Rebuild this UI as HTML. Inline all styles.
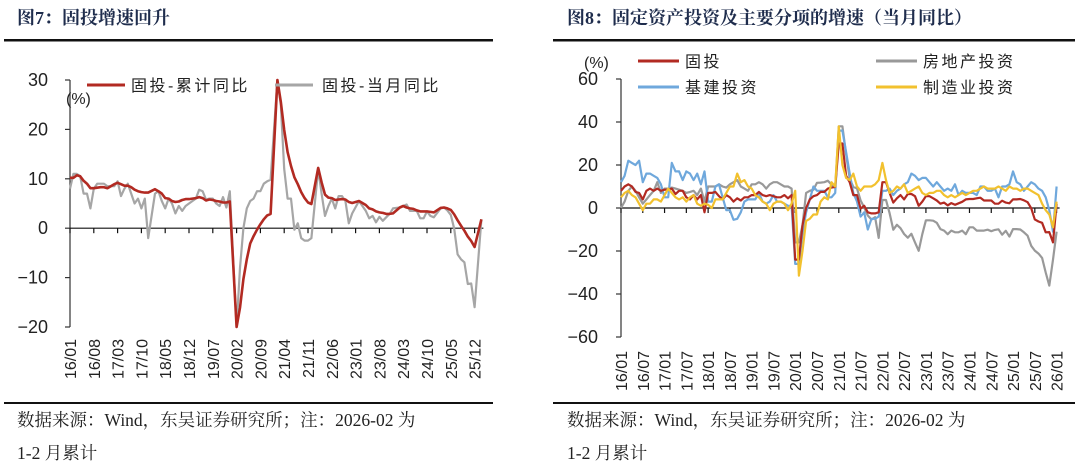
<!DOCTYPE html>
<html><head><meta charset="utf-8">
<style>
html,body{margin:0;padding:0;background:#fff;}
svg{display:block;}
.hd{font-family:"Liberation Serif","Noto Serif CJK SC",serif;font-weight:bold;font-size:18px;fill:#1f2d4d;}
.ft{font-family:"Liberation Serif","Noto Serif CJK SC",serif;font-size:17.5px;fill:#222;}
.tk{font-family:"Liberation Sans","Noto Sans CJK SC",sans-serif;font-size:18px;fill:#222;}
.tx{font-family:"Liberation Sans","Noto Sans CJK SC",sans-serif;font-size:16px;fill:#222;}
.lg{font-family:"Liberation Sans","Noto Sans CJK SC",sans-serif;font-size:16px;fill:#222;letter-spacing:2.5px;}
</style></head><body>
<svg id="root" width="1080" height="468" viewBox="0 0 1080 468" xmlns="http://www.w3.org/2000/svg">
<text class="hd" x="17" y="24">图7：固投增速回升</text>
<text class="hd" x="567" y="24">图8：固定资产投资及主要分项的增速（当月同比）</text>
<rect x="4" y="39" width="489" height="2.5" fill="#111"/>
<rect x="553" y="39" width="522" height="2.5" fill="#111"/>
<rect x="4" y="402" width="489" height="2" fill="#111"/>
<rect x="553" y="402" width="522" height="2" fill="#111"/>
<text class="ft" x="17" y="426">数据来源：Wind，东吴证券研究所；注：2026-02 为</text>
<text class="ft" x="17" y="459">1-2 月累计</text>
<text class="ft" x="567" y="426">数据来源：Wind，东吴证券研究所；注：2026-02 为</text>
<text class="ft" x="567" y="459">1-2 月累计</text>
<g id="left"></g>
<g id="right"></g>
</svg>
<script>
// ---------- Left chart data (2016-01 .. 2026-02; January merged into Feb = null) ----------
const leftTicksY = [30, 20, 10, 0, -10, -20];
const leftTickLabelsX = ["16/01","16/08","17/03","17/10","18/05","18/12","19/07","20/02","20/09","21/04","21/11","22/06","23/01","23/08","24/03","24/10","25/05","25/12"];
const cumYoY = [
10.2,10.2,10.7,10.5,9.6,9.0,8.1,8.1,8.2,8.3,8.3,8.1,
null,8.9,9.2,8.9,8.6,8.6,8.3,7.8,7.5,7.3,7.2,7.2,
null,7.9,7.5,7.0,6.1,6.0,5.5,5.3,5.4,5.7,5.9,5.9,
null,6.1,6.3,6.1,5.6,5.8,5.7,5.5,5.4,5.2,5.2,5.4,
null,-20.5,-16.1,-10.3,-6.3,-3.1,-1.6,-0.3,0.8,1.8,2.6,2.9,
null,30,25.6,19.9,15.4,12.6,10.3,8.9,7.3,6.1,5.2,4.9,
null,12.2,9.3,6.8,6.2,6.1,5.7,5.8,5.9,5.8,5.3,5.1,
null,5.5,5.1,4.7,4.0,3.8,3.4,3.2,3.1,2.9,2.9,3.0,
null,4.2,4.5,4.2,4.0,3.9,3.6,3.4,3.4,3.4,3.3,3.2,
null,4.1,4.2,4.0,3.7,2.8,1.6,0.5,-0.5,-1.7,-2.6,-3.8,
null,1.8];
const monthYoY = [
8,11,11,10.5,7,7,4,8,9,9,9,8.5,
null,8.5,9.5,6.5,8,9,7,5,6,4,6,-2,
null,7,7.5,5.5,4,6,5,3,4.5,3.5,4.5,5,
null,6,7.8,7.5,5.8,6,6,5,4.5,6.3,4.2,7.5,
null,-20.5,-8,0,4,5.5,6,7.5,7.5,9,9.5,9.8,
null,30,25,12,6,6,-0.3,1,-2,-2.5,-2.5,-2,
null,12,7,2.5,4.5,6,4,6.5,6.5,5.5,1,3,
null,5.5,4.5,3.5,2,2.5,1.2,2.3,1.5,2.2,2.9,4,
null,4.2,4.5,4.8,3.5,3.5,3.5,2,2,3.4,2.5,2.2,
null,4,4.2,3.6,2.7,-0.1,-5.3,-6.3,-6.9,-11.3,-11.2,-16,
null,1.8];

// ---------- Right chart data (2016-01 .. 2026-01) ----------
const rightTicksY = [60, 40, 20, 0, -20, -40, -60];
const rightTickLabelsX = ["16/01","16/07","17/01","17/07","18/01","18/07","19/01","19/07","20/01","20/07","21/01","21/07","22/01","22/07","23/01","23/07","24/01","24/07","25/01","25/07","26/01"];
const fai = [
8,10,11,10,7.5,7,4,8,9,8,9,8,
8.5,8.5,9,6.5,8,8,5,4,6,4,6,-2,
7,7,7.5,5.5,4,6,5,3,4.5,3.5,5,5,
6,6,7.5,6,5.5,6,5.5,5,5,6,4.5,6,
-24,-24,-8,0,4,5.5,6,7.5,7.5,9,9.5,9.8,
30,30,15,12,6,6,-0.3,1,-2,-2.5,-2.5,-2,
12,12,7,2.5,4.5,6,4,6.5,6.5,5.5,1,3,
5.5,5.5,4.5,3.5,2,2.5,1.2,2.3,1.5,2.2,2.9,4,
4.2,4.2,4.5,4.8,3.5,3.5,3.5,2,2,3.4,2.5,2.2,
4,4,4.2,3.6,2.7,-0.1,-5.3,-6.3,-6.9,-11.3,-11.2,-16,
2];
const realEstate = [
0,3,8,10,8,5,2,4,6,8,12,7,
9,9,9.5,9,8.5,8,7,7.5,8,6,9,3,
10,10,10,11,10,9.5,11,12,13,10,9,8,
11,11,12,11,9,11,12,12,11,10,10,9,
-16,-16,-8,7,8,8.5,11.7,11.8,12,12.7,10.9,9.3,
38,38,25,13.7,9.8,9.1,3.5,0.3,-3.5,-5.4,-4.3,-13.9,
3.7,3.7,-2.4,-10.1,-7.8,-9.4,-12.1,-13.8,-12,-16,-19.9,-12.2,
-5.7,-5.7,-5.9,-6.9,-9.8,-10.5,-12.2,-10.5,-11.3,-11.3,-10.5,-12.2,
-9,-9,-10.5,-10.5,-10.5,-10.1,-10.8,-10.2,-9.9,-12.4,-10.6,-13.3,
-9.8,-9.8,-10,-11.3,-12.9,-17.6,-19.8,-21.2,-23.2,-30,-36.1,-24,
-11];
const infra = [
12,15,22,21,20,22,12,16,16,15,14,11,
5,5,21,17,17,13,17,16,13,16,11,17,
3,3,10,11,5,-1,-1,-5.5,-5,-2,3,4,
4,4,7,3,2,3,6,3,3,2,1,1,
-26,-26,-12,-2,4,10,8,8,8,5,5,7,
36,36,26,16,7,3,-4,-2,-10,-5,-5,-4,
8,8,9,6,8,9,11,12,16,15,13,14,
14,12,10,12,10,8,9,8,11,6,8,7,
7,7,6,10,10,8,8,9,5,10,10,11,
17,12,11,8,10,12,11,9,8,5,-1,-11,
10];
const manuf = [
5,7,8,6,5,2,-1,2,2,4,4,3,
6,9,7,5,4,5,3,5,6,2,1,2,
1.5,0,4,4,4,7,10,10,16,12,13,10,
9,6,5,3,2,-1,2,3,3,2,-1,2,
8,-31.5,-20,-6,-5,-3,-3,3,5,4,12,10,
38,20,14,13,16,10,8,10,10,10,11,13,
21,13,7,8,10,9,11,7,8,9,10,7,
6,7,7,8,8,6,5,6,5,6,7,6,
7,8,8,9,10,9,9,9,10,9,8,10,
9,9,8,9,9,8,7,6,2,-1,-3,-9,
3];

const NS = "http://www.w3.org/2000/svg";
function mk(parent, tag, attrs){ const e=document.createElementNS(NS,tag); for(const k in attrs) e.setAttribute(k,attrs[k]); parent.appendChild(e); return e; }

// ---------- Left chart ----------
(function(){
  const g = document.getElementById('left');
  const x0=70, step=3.40, yTop=80, yBot=327, vMax=30, vMin=-20;
  const xS = i => x0 + i*step;
  const yS = v => { const c=Math.max(vMin,Math.min(vMax,v)); return yTop + (vMax-c)/(vMax-vMin)*(yBot-yTop); };
  const axis = mk(g,'line',{x1:x0,y1:yTop,x2:x0,y2:yBot,stroke:'#333','stroke-width':1.2});
   
  leftTicksY.forEach(v=>{
    const t=mk(g,'line',{x1:x0-5,y1:yS(v),x2:x0,y2:yS(v),stroke:'#333','stroke-width':1.2});
     
    const l=mk(g,'text',{x:x0-22,y:yS(v)+6,'text-anchor':'end',class:'tk'}); l.textContent=v<0?'−'+(-v):String(v);
     
  });
  const zl=mk(g,'line',{x1:x0,y1:yS(0),x2:xS(121)+2,y2:yS(0),stroke:'#111','stroke-width':1.2});
   
  leftTickLabelsX.forEach((s,k)=>{
    const x=xS(k*7);
    const t=mk(g,'line',{x1:x,y1:yS(0),x2:x,y2:yS(0)+5,stroke:'#111','stroke-width':1.2});
     
    const l=mk(g,'text',{transform:`translate(${x+6},339) rotate(-90)`,'text-anchor':'end',class:'tx'}); l.textContent=s;
     
  });
  const u=mk(g,'text',{x:66,y:104,class:'tx'}); u.textContent='(%)';
   
  const pts = arr => arr.map((v,i)=>v===null?null:xS(i).toFixed(1)+','+yS(v).toFixed(1)).filter(p=>p!==null).join(' ');
  const gl=mk(g,'polyline',{points:pts(monthYoY),fill:'none',stroke:'#a6a6a6','stroke-width':2.2,'stroke-linejoin':'round'});
   
  const rl=mk(g,'polyline',{points:pts(cumYoY),fill:'none',stroke:'#b22a22','stroke-width':2.6,'stroke-linejoin':'round'});
   
  const legend=[['#b22a22',87,131,'固投-累计同比'],['#a6a6a6',275,322,'固投-当月同比']];
  legend.forEach(([c,lx,tx,s])=>{
    const ln=mk(g,'line',{x1:lx,y1:85,x2:lx+38,y2:85,stroke:c,'stroke-width':3});
     
    const t=mk(g,'text',{x:tx,y:91,class:'lg'}); t.textContent=s;
     
  });
})();

// ---------- Right chart ----------
(function(){
  const g = document.getElementById('right');
  const x0=621, step=3.63, yTop=79, yBot=337, vMax=60, vMin=-60;
  const xS = i => x0 + i*step;
  const yS = v => yTop + (vMax-v)/(vMax-vMin)*(yBot-yTop);
  const axis=mk(g,'line',{x1:x0,y1:yTop,x2:x0,y2:yBot,stroke:'#333','stroke-width':1.2});
   
  rightTicksY.forEach(v=>{
    const t=mk(g,'line',{x1:x0-5,y1:yS(v),x2:x0,y2:yS(v),stroke:'#333','stroke-width':1.2});
     
    const l=mk(g,'text',{x:x0-23,y:yS(v)+6,'text-anchor':'end',class:'tk'}); l.textContent=v<0?'−'+(-v):String(v);
     
  });
  const zl=mk(g,'line',{x1:x0,y1:yS(0),x2:xS(120)+3,y2:yS(0),stroke:'#111','stroke-width':1.2});
   
  rightTickLabelsX.forEach((s,k)=>{
    const x=xS(k*6);
    const t=mk(g,'line',{x1:x,y1:yS(0),x2:x,y2:yS(0)+5,stroke:'#111','stroke-width':1.2});
     
    const l=mk(g,'text',{transform:`translate(${x+6},351) rotate(-90)`,'text-anchor':'end',class:'tx'}); l.textContent=s;
     
  });
  const u=mk(g,'text',{x:584,y:68,class:'tx'}); u.textContent='(%)';
   
  const pts = arr => arr.map((v,i)=>xS(i).toFixed(1)+','+yS(v).toFixed(1)).join(' ');
  const series=[[realEstate,'#999999','series-real-estate'],[infra,'#6fa8dc','series-infrastructure'],[fai,'#b22a22','series-fixed-asset-investment'],[manuf,'#f2c12e','series-manufacturing']];
  series.forEach(([arr,c,n])=>{
    const p=mk(g,'polyline',{points:pts(arr),fill:'none',stroke:c,'stroke-width':2.2,'stroke-linejoin':'round'});
     
  });
  const legend=[['#b22a22',638,61,'固投'],['#999999',876,61,'房地产投资'],['#6fa8dc',638,87,'基建投资'],['#f2c12e',876,87,'制造业投资']];
  legend.forEach(([c,lx,ly,s])=>{
    const ln=mk(g,'line',{x1:lx,y1:ly,x2:lx+41,y2:ly,stroke:c,'stroke-width':3});
     
    const t=mk(g,'text',{x:lx+47,y:ly+6,class:'lg'}); t.textContent=s;
     
  });
})();
</script>
</body></html>
